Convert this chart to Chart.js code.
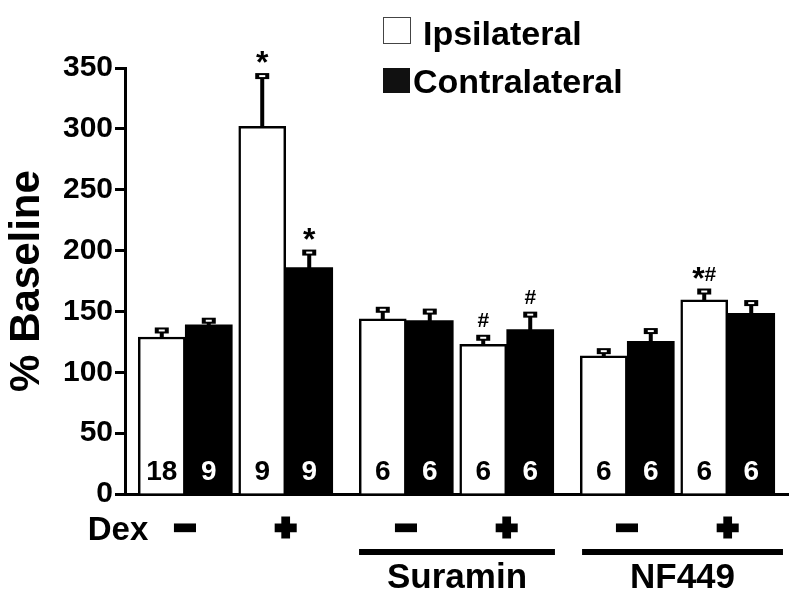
<!DOCTYPE html>
<html>
<head>
<meta charset="utf-8">
<script src="https://cdn.jsdelivr.net/npm/chart.js@4"></script>
<style>
  html, body { margin: 0; padding: 0; background: #fff; }
  #wrap { width: 800px; height: 604px; }
</style>
</head>
<body>
<div id="wrap"><canvas id="chart"></canvas></div>
<script>
// group positions on the x axis (pairs sit a little further apart)
const groupPos = [1, 2, 3.2, 4.2, 5.4, 6.4];
const dexLabels = ['\u2212', '+', '\u2212', '+', '\u2212', '+'];

const ipsiValues = [129, 302, 144, 123, 113.5, 159.5];
const ipsiErrors = [7, 43, 9, 7, 5.5, 8.5];
const contraValues = [139, 186, 142.5, 135, 125.5, 148.5];
const contraErrors = [5, 14, 9, 14, 10, 10];

const ipsiN = ['18', '9', '6', '6', '6', '6'];
const contraN = ['9', '9', '6', '6', '6', '6'];
const ipsiMarks = ['', '*', '', '#', '', '*#'];
const contraMarks = ['', '*', '', '#', '', ''];

const treatments = ['Suramin', 'NF449'];
const treatmentFrom = [2.73, 4.95];
const treatmentTo = [4.68, 6.95];

const F = '"Liberation Sans", Arial, Helvetica, sans-serif';

function drawMark(ctx, str, cx, bottom) {
  if (!str) return;
  const parts = [...str].map(ch => ({ ch, font: ch === '*' ? `bold 32px ${F}` : `bold 21px ${F}` }));
  ctx.textAlign = 'left';
  ctx.textBaseline = 'alphabetic';
  ctx.fillStyle = '#000';
  let total = 0;
  parts.forEach(p => { ctx.font = p.font; p.w = ctx.measureText(p.ch).width; total += p.w; });
  let xx = cx - total / 2;
  parts.forEach(p => {
    ctx.font = p.font;
    ctx.fillText(p.ch, xx, p.ch === '*' ? bottom + 8 : bottom);
    xx += p.w;
  });
}

const overlay = {
  id: 'overlay',
  afterDatasetsDraw(chart) {
    const { ctx, scales: { y } } = chart;
    const series = [
      { values: ipsiValues, errors: ipsiErrors, n: ipsiN, marks: ipsiMarks, text: '#000' },
      { values: contraValues, errors: contraErrors, n: contraN, marks: contraMarks, text: '#fff' }
    ];
    series.forEach((s, d) => {
      chart.getDatasetMeta(d).data.forEach((bar, i) => {
        const cx = bar.x;
        const top = y.getPixelForValue(s.values[i] + s.errors[i]);
        ctx.save();
        // error bar with hollow cap
        ctx.fillStyle = '#000';
        ctx.fillRect(cx - 2, top, 4, bar.y - top + 1);
        ctx.fillRect(cx - 7, top - 1, 14, 6);
        ctx.fillStyle = '#fff';
        ctx.fillRect(cx - 3, top + 1, 6, 2);
        // n per bar
        ctx.font = `bold 28px ${F}`;
        ctx.fillStyle = s.text;
        ctx.textAlign = 'center';
        ctx.textBaseline = 'middle';
        ctx.fillText(s.n[i], cx, y.getPixelForValue(0) - 22);
        drawMark(ctx, s.marks[i], cx, top - 9);
        ctx.restore();
      });
    });
  },
  afterDraw(chart) {
    const { ctx, scales: { x } } = chart;
    ctx.save();
    // legend
    ctx.strokeStyle = '#444';
    ctx.lineWidth = 1;
    ctx.strokeRect(383.5, 17.5, 27, 26);
    ctx.fillStyle = '#111';
    ctx.fillRect(383, 68, 27, 25);
    ctx.fillStyle = '#000';
    ctx.font = `bold 34px ${F}`;
    ctx.textAlign = 'left';
    ctx.textBaseline = 'alphabetic';
    ctx.fillText('Ipsilateral', 423, 45);
    ctx.fillText('Contralateral', 413, 93);

    // Dex row
    ctx.textAlign = 'center';
    ctx.textBaseline = 'middle';
    ctx.font = `bold 33px ${F}`;
    ctx.fillText('Dex', 118, 531);
    ctx.font = `bold 34px ${F}`;
    ctx.strokeStyle = '#000';
    ctx.lineWidth = 5;
    groupPos.forEach((g, i) => {
      const px = x.getPixelForValue(g);
      ctx.fillText(dexLabels[i], px, 530);
      ctx.strokeText(dexLabels[i], px, 530);
    });

    // treatment bars
    ctx.textBaseline = 'alphabetic';
    ctx.font = `bold 35px ${F}`;
    treatments.forEach((t, k) => {
      const a = x.getPixelForValue(treatmentFrom[k]);
      const b = x.getPixelForValue(treatmentTo[k]);
      ctx.fillRect(a, 549, b - a, 6);
      ctx.fillText(t, (a + b) / 2, 588);
    });
    ctx.restore();
  }
};

new Chart(document.getElementById('chart'), {
  type: 'bar',
  data: {
    datasets: [
      {
        label: 'Ipsilateral',
        data: groupPos.map((g, i) => ({ x: g, y: ipsiValues[i] })),
        backgroundColor: '#fff',
        borderColor: '#000',
        borderWidth: 2.5,
        barThickness: 47
      },
      {
        label: 'Contralateral',
        data: groupPos.map((g, i) => ({ x: g, y: contraValues[i] })),
        backgroundColor: '#000',
        borderColor: '#000',
        borderWidth: 0,
        barThickness: 47
      }
    ]
  },
  options: {
    responsive: true,
    maintainAspectRatio: false,
    animation: false,
    layout: { padding: { top: 68, right: 12, left: 0, bottom: 0 } },
    plugins: { legend: { display: false }, tooltip: { enabled: false } },
    scales: {
      x: {
        type: 'linear',
        min: 0.4,
        max: 7.0,
        offset: false,
        ticks: { display: false },
        grid: { display: true, drawOnChartArea: false, drawTicks: false },
        border: { display: true, color: '#000', width: 3 },
        afterFit: s => { s.height = 110; }
      },
      y: {
        min: 0,
        max: 350,
        ticks: { stepSize: 50, color: '#000', padding: 2, font: { family: F, size: 30, weight: 'bold' } },
        grid: { drawOnChartArea: false, drawTicks: true, tickLength: 10, tickWidth: 3, tickColor: '#000' },
        border: { display: true, color: '#000', width: 3 },
        title: {
          display: true,
          text: '% Baseline',
          color: '#000',
          font: { family: F, size: 42, weight: 'bold' },
          padding: { top: 2, bottom: 0 }
        },
        afterFit: s => { s.width = 125; }
      }
    }
  },
  plugins: [overlay]
});
</script>
</body>
</html>
